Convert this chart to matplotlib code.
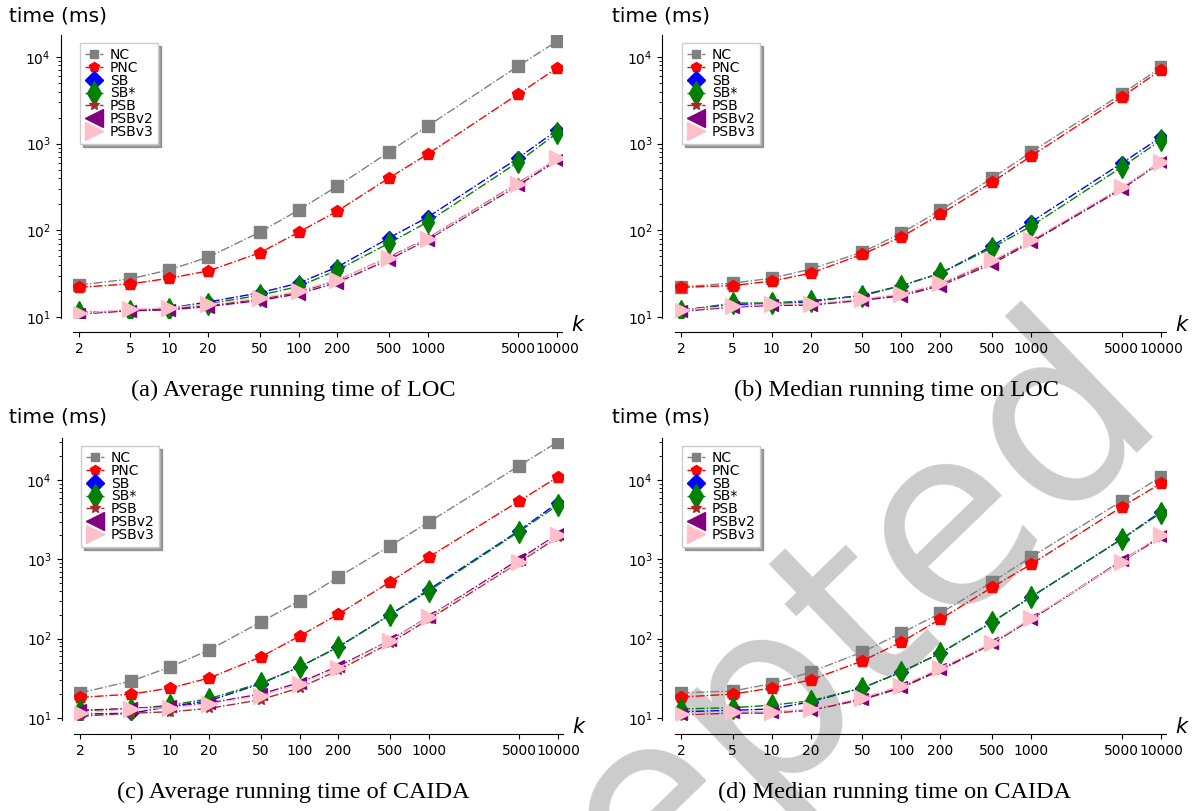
import matplotlib
matplotlib.use('Agg')
import matplotlib.pyplot as plt

ks = [2, 5, 10, 20, 50, 100, 200, 500, 1000, 5000, 10000]
k_labels = ['2', '5', '10', '20', '50', '100', '200', '500', '1000', '5000', '10000']
methods = ['NC', 'PNC', 'SB', 'SB*', 'PSB', 'PSBv2', 'PSBv3']

# (a) average running time, LOC
loc_avg = {
    'NC':    [23.4, 27.5, 35, 49, 95, 171, 324, 800, 1600, 7850, 15200],
    'PNC':   [22, 24.1, 28, 34, 55, 95, 167, 401, 759, 3730, 7450],
    'SB':    [11.1, 12.0, 12.7, 14.9, 19, 24.6, 37.8, 81.5, 142, 682, 1436],
    'SB*':   [11.3, 11.8, 12.3, 14.2, 17.8, 22.5, 34.8, 71, 125, 614, 1324],
    'PSB':   [10.8, 12.0, 12.4, 13.5, 16, 19.2, 26.7, 49, 81, 352, 661],
    'PSBv2': [10.9, 11.8, 12.1, 13.2, 15.5, 18.5, 25, 46, 78, 330, 640],
    'PSBv3': [11.0, 12.3, 12.8, 14.0, 16.5, 20, 27, 48, 80, 345, 680],
}
# (b) median running time, LOC
loc_med = {
    'NC':    [22.2, 24.6, 28, 35.7, 56, 93, 171, 400, 800, 3750, 7600],
    'PNC':   [22, 23, 26, 32, 53, 84, 154, 360, 720, 3470, 7100],
    'SB':    [12, 14, 14.2, 15, 17.9, 23, 32, 66, 125, 597, 1190],
    'SB*':   [11.8, 14.5, 14.5, 15.5, 17.5, 23, 32, 63, 112, 538, 1100],
    'PSB':   [11.8, 13.2, 13.8, 14, 16, 18, 24, 43, 75, 310, 620],
    'PSBv2': [11.6, 13, 13.6, 13.7, 15.6, 17.5, 23, 41, 73, 300, 610],
    'PSBv3': [12, 13.3, 14, 14.2, 16.2, 18.5, 24.5, 45, 77, 316, 614],
}
# (c) average running time, CAIDA
caida_avg = {
    'NC':    [20.7, 29.3, 44, 72, 162, 299, 600, 1476, 2950, 15100, 30400],
    'PNC':   [18.2, 20, 23.9, 31.9, 58.7, 108, 204, 519, 1070, 5440, 10970],
    'SB':    [11.2, 11.5, 14, 16.5, 27, 44, 79, 200, 415, 2300, 5200],
    'SB*':   [12.5, 13, 14.5, 17.5, 27.5, 44, 78.5, 199, 400, 2240, 4850],
    'PSB':   [10.5, 11.5, 12.0, 13.2, 17, 24, 40, 88, 175, 920, 1900],
    'PSBv2': [12.5, 13.2, 14, 15.5, 20, 28, 45, 95, 190, 1000, 2100],
    'PSBv3': [11.5, 13, 13.5, 15, 19, 26.5, 43, 93.5, 187, 940, 2050],
}
# (d) median running time, CAIDA
caida_med = {
    'NC':    [20.7, 21.9, 27, 38, 68, 118, 210, 519, 1070, 5450, 10970],
    'PNC':   [18.4, 20, 23.9, 30.2, 52.5, 91, 177, 445, 870, 4600, 9100],
    'SB':    [12, 12.5, 13, 16, 24, 38, 66, 162, 337, 1810, 4000],
    'SB*':   [13, 13.5, 14.5, 16.5, 24, 38, 66, 162, 337, 1810, 3850],
    'PSB':   [11, 11.5, 11.5, 12.5, 17, 24, 40, 86, 175, 950, 1900],
    'PSBv2': [11.2, 11.8, 12, 12.8, 17.5, 24.5, 41, 88, 178, 970, 1950],
    'PSBv3': [11.3, 12, 12, 13, 18, 25.5, 43, 89, 182, 940, 2050],
}

colors = ['gray', 'red', 'blue', 'green', 'brown', 'purple', 'pink']
markers = ['s', 'p', 'D', 'd', '*', '<', '>']
msizes = [8, 9, 7.5, 11, 7, 9, 11]
leg_sizes = [6, 7, 9, 12, 7, 13, 13]

panels = [
    (loc_avg, '(a) Average running time of LOC', [73, 35, 489, 283], (9.74, 17950), 293, 390, 9, 16),
    (loc_med, '(b) Median running time on LOC', [675, 35, 491, 283], (9.74, 17950), 896, 390, 612, 16),
    (caida_avg, '(c) Average running time of CAIDA', [74, 438, 489, 282], (9.44, 33900), 293, 792, 9, 417),
    (caida_med, '(d) Median running time on CAIDA', [675, 438, 491, 282], (9.44, 33900), 895, 792, 612, 417),
]

W, H = 1194, 811
fig = plt.figure(figsize=(W / 100, H / 100), dpi=100)

# watermark behind everything
fig.text(1170 / W, 1 - 420 / H, 'Accepted', fontsize=180, color='#cccccc', rotation=44,
         rotation_mode='anchor', ha='right', va='baseline', zorder=-5)

for data, caption, box, ylim, cx, cy, tx, ty in panels:
    x0, y0, w, h = box
    ax = fig.add_axes([x0 / W, 1 - (y0 + h) / H, w / W, h / H])
    ax.patch.set_alpha(0)
    for m, c, mk, ms in zip(methods, colors, markers, msizes):
        ax.plot(ks, data[m], linestyle='-.', linewidth=1, color=c, marker=mk,
                markersize=ms, label=m)
    ax.set_xscale('log')
    ax.set_yscale('log')
    ax.set_xlim(1.8, 10930)
    ax.set_ylim(*ylim)
    ax.set_xticks(ks)
    ax.set_xticklabels(k_labels)
    ax.minorticks_off()
    ax.yaxis.set_minor_locator(matplotlib.ticker.LogLocator(subs=range(2, 10)))
    ax.yaxis.set_minor_formatter(matplotlib.ticker.NullFormatter())
    ax.tick_params(labelsize=10)
    ax.spines['top'].set_visible(False)
    ax.spines['right'].set_visible(False)
    ax.spines['left'].set_position(('outward', 9))
    ax.spines['bottom'].set_position(('outward', 10))
    ax.text(1.033, -0.025, '$k$', transform=ax.transAxes, fontsize=15,
            ha='center', va='center')
    leg = ax.legend(loc='upper left', bbox_to_anchor=(0.014, 0.972), borderaxespad=0,
                    fontsize=10, shadow=True, fancybox=False, labelspacing=-0.08,
                    handlelength=1.3, handletextpad=0.5, borderpad=0.35)
    for hnd, s in zip(leg.legend_handles, leg_sizes):
        hnd.set_markersize(s)
    fig.text(tx / W, 1 - ty / H, 'time (ms)', fontsize=14.5, va='center', ha='left')
    fig.text(cx / W, 1 - cy / H, caption, fontsize=17.5, family='Liberation Serif',
             ha='center', va='center')

fig.savefig('out.png', dpi=100)
